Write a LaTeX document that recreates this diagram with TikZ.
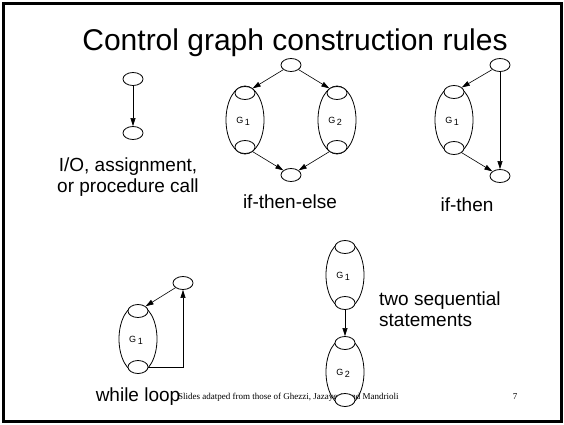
\documentclass[tikz,border=0pt]{standalone}
\usepackage{fontspec}
\setmainfont{Liberation Sans}
\newfontfamily\footfont{Liberation Serif}
\usetikzlibrary{arrows.meta,shapes.geometric}

\begin{document}
\begin{tikzpicture}[x=1pt, y=-1pt,
    vertex/.style={draw, fill=white, ellipse, minimum width=20pt, minimum height=13pt, inner sep=0pt, line width=0.8pt},
    blob/.style={draw, ellipse, minimum width=38pt, minimum height=68pt, inner sep=0pt, line width=0.8pt},
    flow/.style={-{Triangle[length=8pt,width=5pt]}, line width=0.6pt},
    rulelabel/.style={font=\fontsize{19}{21}\selectfont, align=center, inner sep=0pt},
    glabel/.style={font=\fontsize{9}{10}\selectfont, inner sep=0pt}]
    \useasboundingbox (0,0) rectangle (564,424);

    % Slide frame and title
    \draw[line width=3pt] (3,3) rectangle (561,421);
    \node[font=\fontsize{30}{33}\selectfont, anchor=base] (title) at (295,50) {Control graph construction rules};

    % Footer text (lies behind the last graph)
    \node[font=\footfont\fontsize{9}{10}\selectfont, anchor=base west, inner sep=0pt] (credit) at (178,399) {Slides adatped from those of Ghezzi, Jazayeri, and Mandrioli};
    \node[font=\footfont\fontsize{9}{10}\selectfont, anchor=base, inner sep=0pt] (pagenum) at (515,399) {7};

    % I/O, assignment, or procedure call
    \node[vertex] (ioa) at (133,79) {};
    \node[vertex] (iob) at (133,133) {};
    \draw[flow] (ioa) -- (iob);
    \node[rulelabel] (iolabel) at (128,177) {I/O, assignment,\\or procedure call};

    % if-then-else
    \node[blob] (iteg1) at (245,120) {};
    \node[blob] (iteg2) at (337,120) {};
    \node[glabel] at (243,121) {G\,\raisebox{-2pt}{1}};
    \node[glabel] at (335,121) {G\,\raisebox{-2pt}{2}};
    \node[vertex] (itetop) at (291,65) {};
    \node[vertex] (iteg1a) at (245,93) {};
    \node[vertex] (iteg1b) at (245,147) {};
    \node[vertex] (iteg2a) at (337,93) {};
    \node[vertex] (iteg2b) at (337,147) {};
    \node[vertex] (itebot) at (291,175) {};
    \draw[flow] (itetop) -- (iteg1a);
    \draw[flow] (itetop) -- (iteg2a);
    \draw[flow] (iteg1b) -- (itebot);
    \draw[flow] (iteg2b) -- (itebot);
    \node[rulelabel] (itelabel) at (290,202) {if-then-else};

    % if-then
    \node[blob] (itg1) at (454,120) {};
    \node[glabel] at (452,121) {G\,\raisebox{-2pt}{1}};
    \node[vertex] (ittop) at (500,65) {};
    \node[vertex] (itg1a) at (454,92) {};
    \node[vertex] (itg1b) at (454,148) {};
    \node[vertex] (itbot) at (500,176) {};
    \draw[flow] (ittop) -- (itg1a);
    \draw[flow] (itg1b) -- (itbot);
    \draw[flow] (ittop) -- (itbot);
    \node[rulelabel] (itlabel) at (467,205) {if-then};

    % while loop
    \node[blob] (wg1) at (138,339) {};
    \node[glabel] at (136,340) {G\,\raisebox{-2pt}{1}};
    \node[vertex] (wtop) at (183,283) {};
    \node[vertex] (wg1a) at (138,311) {};
    \node[vertex] (wg1b) at (138,367) {};
    \draw[flow] (wtop) -- (wg1a);
    \draw[flow] (wg1b.east) -| (wtop);
    \node[rulelabel, anchor=base] (wlabel) at (138,401) {while loop};

    % two sequential statements
    \node[blob] (sg1) at (345,275) {};
    \node[blob] (sg2) at (345,372) {};
    \node[glabel] at (343,276) {G\,\raisebox{-2pt}{1}};
    \node[glabel] at (343,373) {G\,\raisebox{-2pt}{2}};
    \node[vertex] (sg1a) at (345,247) {};
    \node[vertex] (sg1b) at (345,303) {};
    \node[vertex] (sg2a) at (345,343) {};
    \node[vertex] (sg2b) at (345,400) {};
    \draw[flow] (sg1b) -- (sg2a);
    \node[rulelabel, align=left, anchor=west] (slabel) at (379,309) {two sequential\\statements};

\end{tikzpicture}
\end{document}
